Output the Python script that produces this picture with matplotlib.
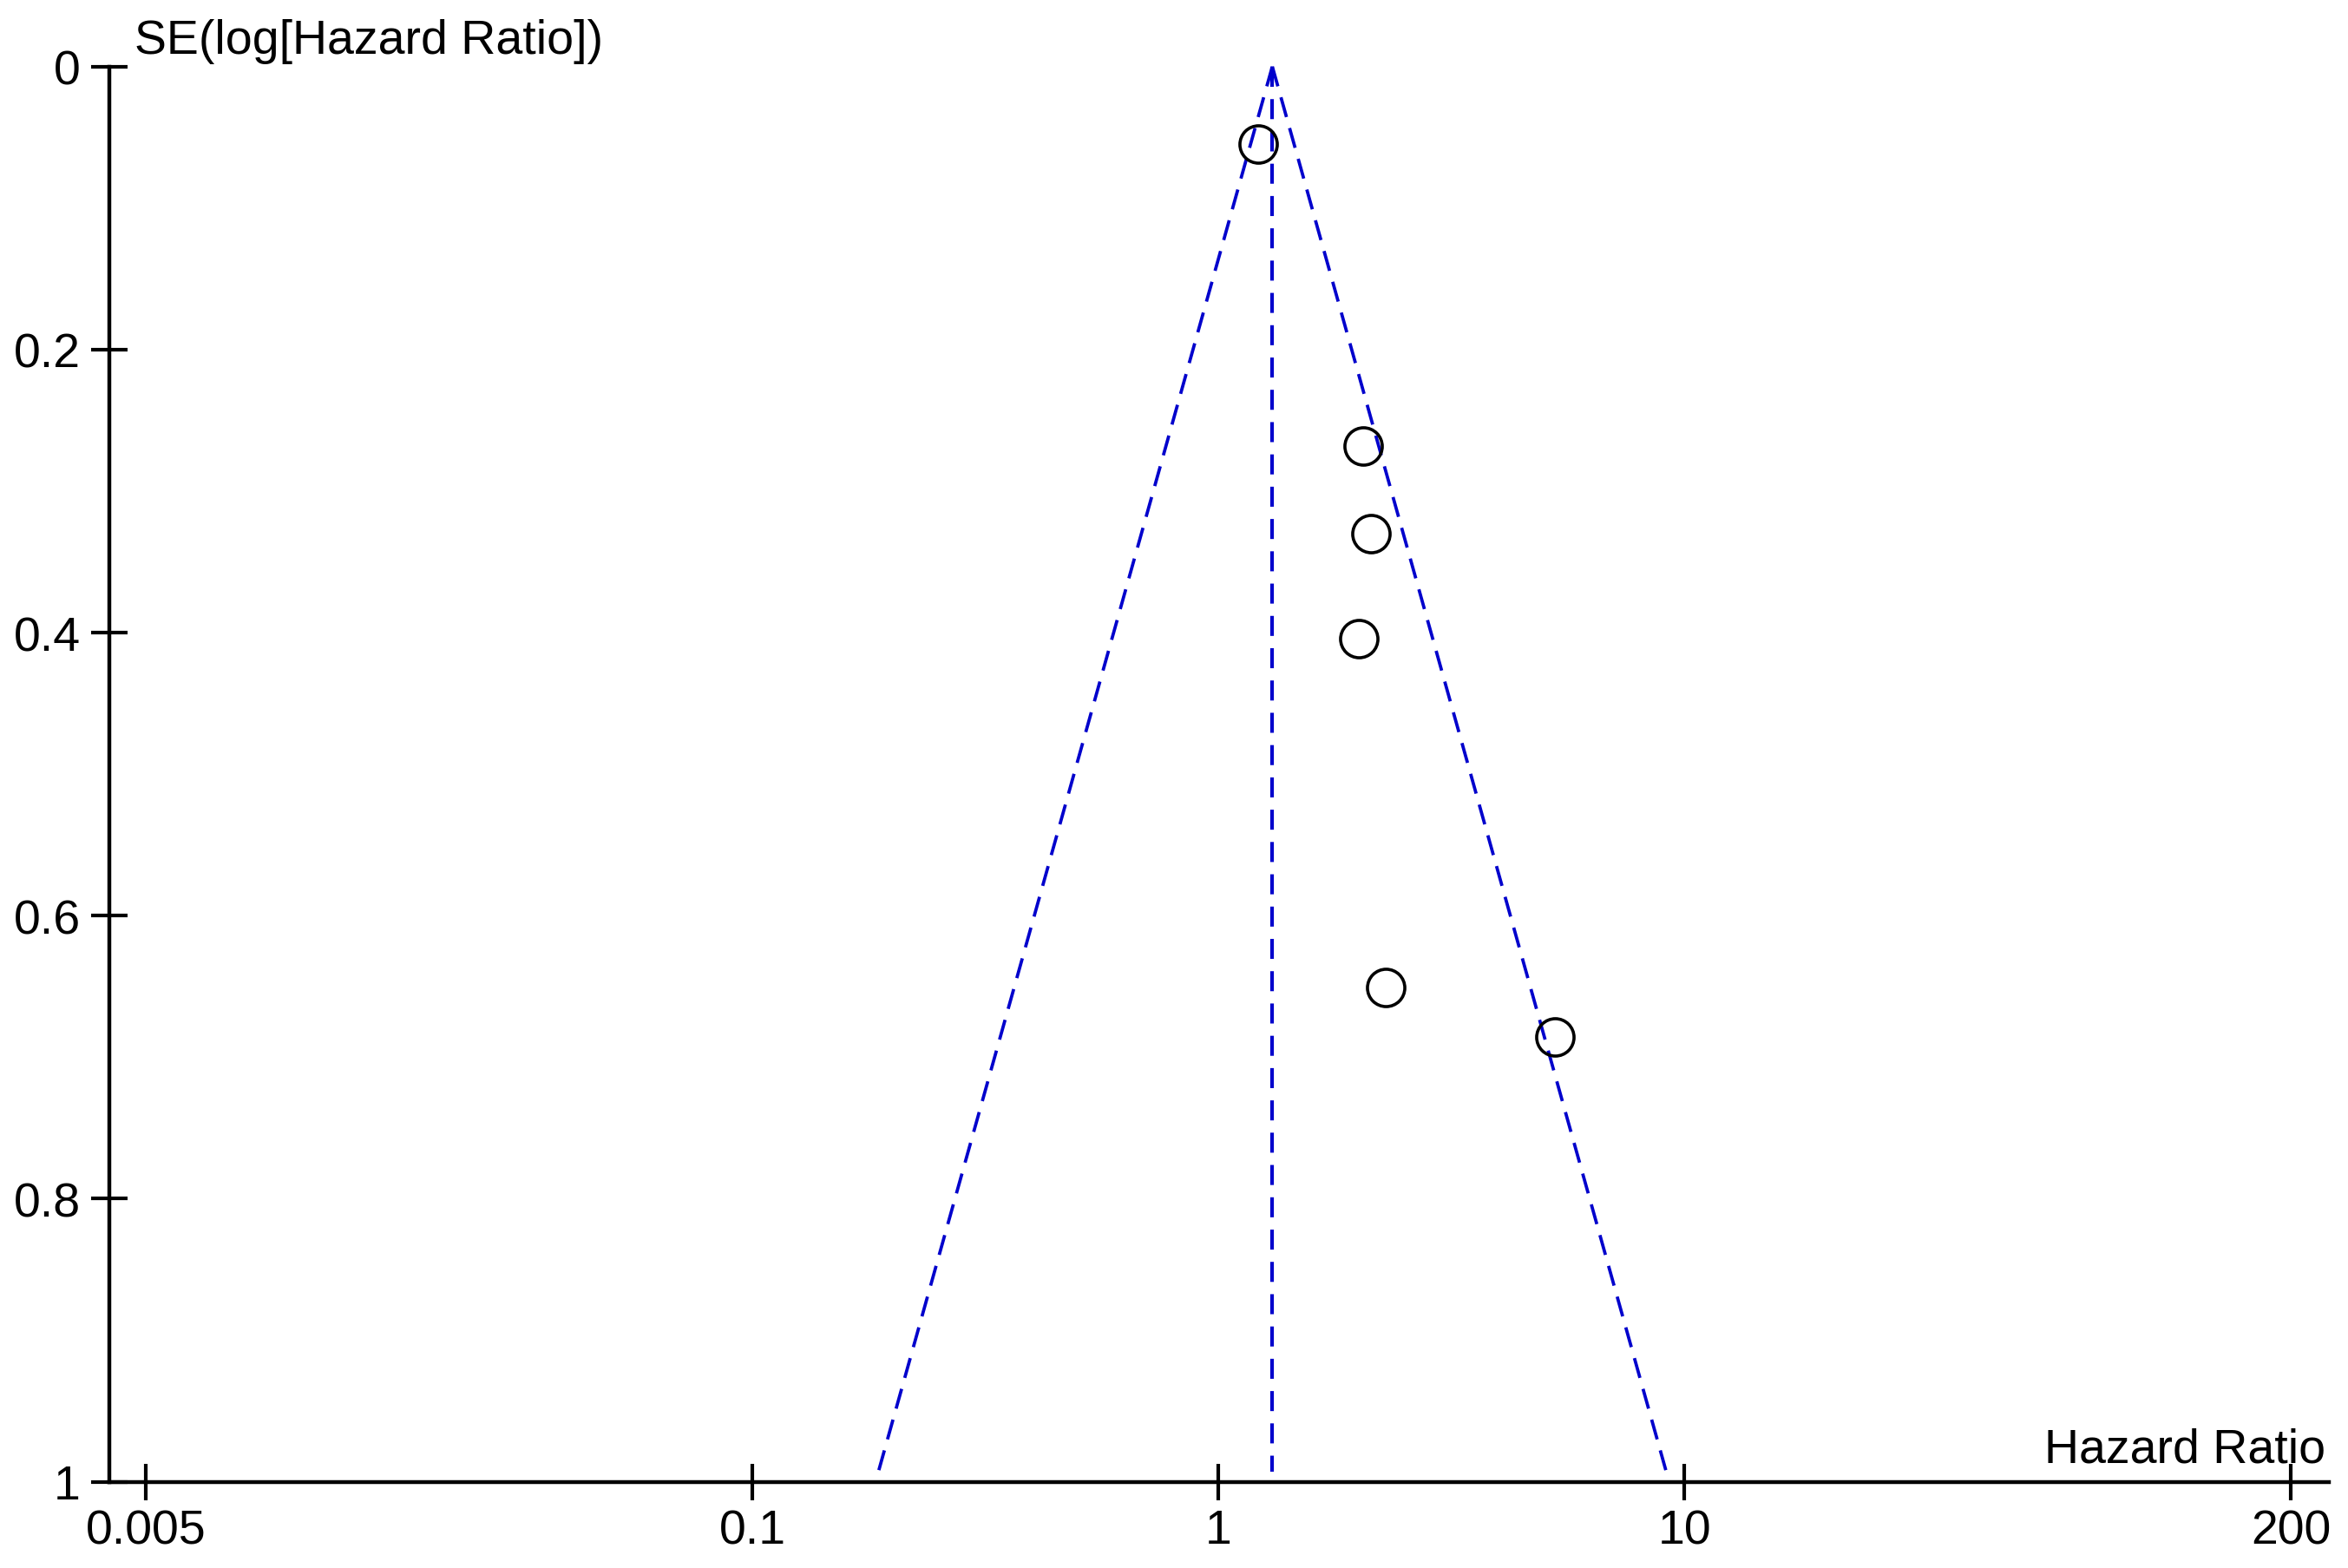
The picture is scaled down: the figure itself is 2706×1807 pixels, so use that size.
import numpy as np
import matplotlib
matplotlib.use("Agg")
import matplotlib.pyplot as plt

# Study data
hazard_ratio = [1.215, 2.04, 2.12, 2.00, 2.29, 5.28]
se_log_hr = [0.055, 0.268, 0.330, 0.404, 0.651, 0.686]
pooled_hr = 1.305

x_ticks = [0.005, 0.1, 1, 10, 200]
x_tick_labels = ["0.005", "0.1", "1", "10", "200"]
y_ticks = [0, 0.2, 0.4, 0.6, 0.8, 1]
y_tick_labels = ["0", "0.2", "0.4", "0.6", "0.8", "1"]

plt.rcParams['font.family'] = ['Liberation Sans', 'DejaVu Sans']
plt.rcParams['lines.scale_dashes'] = False

W, H = 2706, 1808
fig = plt.figure(figsize=(W / 100, H / 100), dpi=100)
left, right, top, bottom = 126, 2684, 77.7, 1708.5
ax = fig.add_axes([left / W, 1 - bottom / H, (right - left) / W, (bottom - top) / H])

ax.set_xscale('log')
ax.set_xlim(0.00417, 241.4)
ax.set_ylim(1, 0)

blue = '#0000CC'
se_max = 1.0
lo = np.exp(np.log(pooled_hr) - 1.96 * se_max)
hi = np.exp(np.log(pooled_hr) + 1.96 * se_max)
ax.plot([pooled_hr, lo], [0, se_max], color=blue, lw=2.7, linestyle=(0, (17, 9.5)), clip_on=False)
ax.plot([pooled_hr, hi], [0, se_max], color=blue, lw=2.7, linestyle=(0, (17, 9.5)), clip_on=False)
ax.plot([pooled_hr, pooled_hr], [0, 0.993], color=blue, lw=3.0, linestyle=(0, (16.6, 10.2)), clip_on=False)

ax.plot(hazard_ratio, se_log_hr, linestyle='none', marker='o', markersize=31,
        markerfacecolor='none', markeredgecolor='black', markeredgewidth=2.6, clip_on=False)

for s in ['top', 'right']:
    ax.spines[s].set_visible(False)
ax.spines['left'].set_linewidth(3.2)
ax.spines['bottom'].set_linewidth(3.2)

ax.set_xticks(x_ticks)
ax.set_xticklabels(x_tick_labels)
ax.xaxis.set_minor_locator(matplotlib.ticker.NullLocator())
ax.set_yticks(y_ticks)
ax.set_yticklabels(y_tick_labels)
ax.tick_params(axis='both', direction='inout', length=30, width=3.0, labelsize=40, colors='black')
ax.tick_params(axis='x', pad=7)
ax.tick_params(axis='y', pad=9)

fig.text(155 / W, 1 - 62 / H, "SE(log[Hazard Ratio])", fontsize=40, ha='left', va='baseline')
fig.text(2680 / W, 1 - 1686 / H, "Hazard Ratio", fontsize=40, ha='right', va='baseline')

fig.savefig("out.png", dpi=100, facecolor='white')
